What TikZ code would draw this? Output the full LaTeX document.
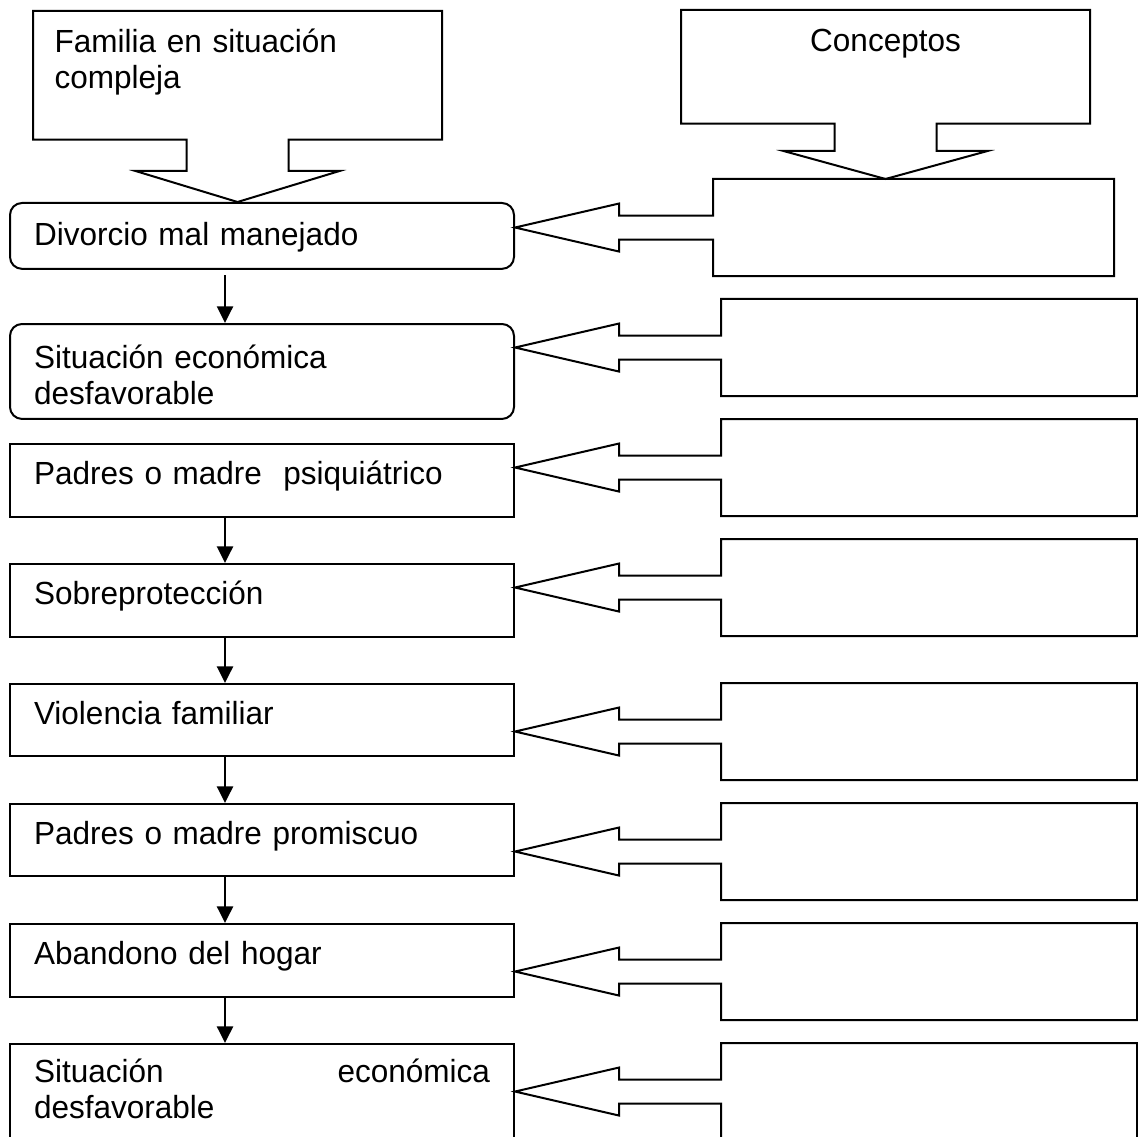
\documentclass[tikz,border=0pt]{standalone}
\usepackage{fontspec}
\setmainfont{Liberation Sans}[FakeStretch=0.985]
\usetikzlibrary{arrows.meta, calc}

\begin{document}
\begin{tikzpicture}[
  x=0.375pt, y=-0.375pt,
  every node/.style={font=\fontsize{12pt}{13.5pt}\selectfont},
  lbox/.style={draw, line width=0.75pt, anchor=north west, inner xsep=9pt, inner ysep=0pt,
               text width=171pt, align=left, text height=15pt, text depth=12.4pt},
  rbox/.style={anchor=north west, inner sep=0pt, minimum width=155.6pt, minimum height=36pt},
  topbox/.style={anchor=north west, inner xsep=7.9pt, inner ysep=0pt, text width=137.2pt,
                 text height=15.2pt},
  callout/.style={draw, line width=0.75pt, line join=miter},
  arr/.style={-{Triangle[length=6.2pt, width=6pt]}, line width=0.75pt},
]
\useasboundingbox (0,0) rectangle (1137,1137);

% ===== TOP CALLOUT BOXES =====
\node[topbox, align=left, text depth=32.6pt] (fam) at (33,11) {Familia en situación\\compleja};
\node[topbox, align=center, text depth=27pt] (conc) at (681,10) {Conceptos};

% ===== LEFT COLUMN =====
\node[lbox, rounded corners=4.5pt, text height=16.1pt, text depth=8.6pt] (l1) at (9,202) {Divorcio mal manejado};
\node[lbox, rounded corners=4.5pt, text height=16.5pt, text depth=19.1pt] (l2) at (9,323) {Situación económica\\desfavorable};
\node[lbox] (l3) at (9,443) {Padres o madre~ psiquiátrico};
\node[lbox] (l4) at (9,563) {Sobreprotección};
\node[lbox, text depth=12pt] (l5) at (9,683) {Violencia familiar};
\node[lbox, text depth=12pt] (l6) at (9,803) {Padres o madre promiscuo};
\node[lbox] (l7) at (9,923) {Abandono del hogar};
\node[lbox, text height=14.6pt, text depth=45pt] (l8) at (9,1043) {Situación\hfill económica\\desfavorable};

% ===== RIGHT COLUMN (empty boxes) =====
\node[rbox, minimum width=150pt] (r1) at (713,179) {};
\node[rbox] (r2) at (721,299) {};
\node[rbox] (r3) at (721,419) {};
\node[rbox] (r4) at (721,539) {};
\node[rbox] (r5) at (721,683) {};
\node[rbox] (r6) at (721,803) {};
\node[rbox] (r7) at (721,923) {};
\node[rbox] (r8) at (721,1043) {};

% ===== DOWN ARROW CALLOUTS =====
\coordinate (ftip) at (fam.south |- l1.north);
\draw[callout] (fam.south west) -- (fam.north west) -- (fam.north east) -- (fam.south east)
  -- ($(fam.south)+(51,0)$) -- ($(ftip)+(51,-31)$) -- ($(ftip)+(102,-31)$) -- (ftip)
  -- ($(ftip)+(-102,-31)$) -- ($(ftip)+(-51,-31)$) -- ($(fam.south)+(-51,0)$) -- cycle;

\coordinate (ctip) at (conc.south |- r1.north);
\draw[callout] (conc.south west) -- (conc.north west) -- (conc.north east) -- (conc.south east)
  -- ($(conc.south)+(51,0)$) -- ($(ctip)+(51,-28)$) -- ($(ctip)+(102,-28)$) -- (ctip)
  -- ($(ctip)+(-102,-28)$) -- ($(ctip)+(-51,-28)$) -- ($(conc.south)+(-51,0)$) -- cycle;

% ===== LEFT ARROW CALLOUTS =====
\foreach \l/\r in {l1/r1, l2/r2, l3/r3, l4/r4, l5/r5, l6/r6, l7/r7, l8/r8} {
  \coordinate (tip) at (\r.west -| \l.east);
  \draw[callout] (\r.north west) -- (\r.north east) -- (\r.south east) -- (\r.south west)
    -- ($(\r.west)+(0,12)$) -- ($(tip)+(104,12)$) -- ($(tip)+(104,24)$) -- (tip)
    -- ($(tip)+(104,-24)$) -- ($(tip)+(104,-12)$) -- ($(\r.west)+(0,-12)$) -- cycle;
}

% ===== FLOW ARROWS =====
\draw[arr, shorten <=2pt] ($(l1.south west)+(216,0)$) -- ($(l2.north west)+(216,0)$);
\foreach \a/\b in {l3/l4, l4/l5, l5/l6, l6/l7, l7/l8}
  \draw[arr] ($(\a.south west)+(216,0)$) -- ($(\b.north west)+(216,0)$);

\end{tikzpicture}
\end{document}
